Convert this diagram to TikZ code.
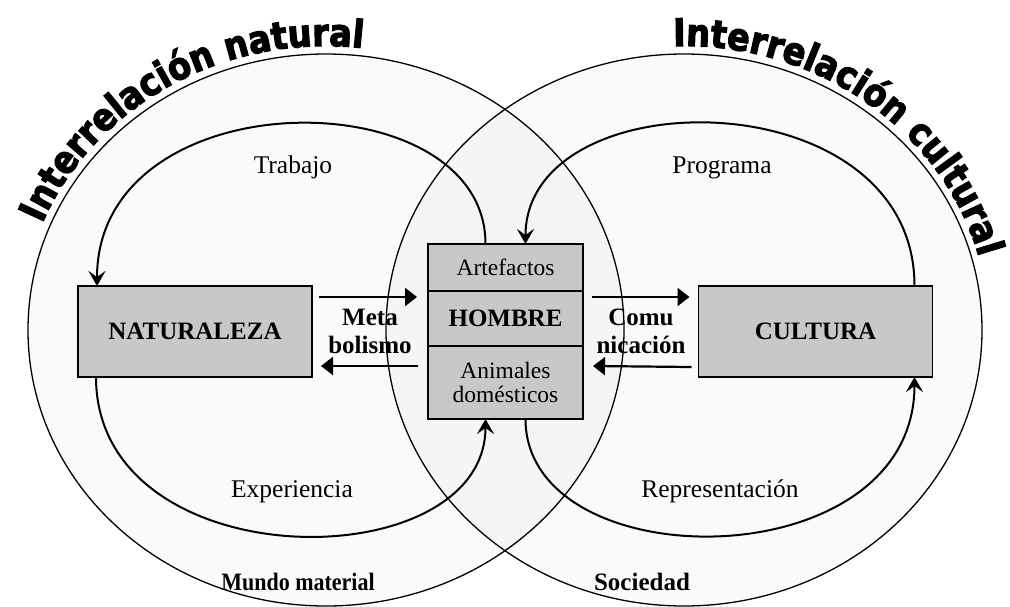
\documentclass[tikz,border=0pt]{standalone}
\usepackage{fontspec}
\setmainfont{Liberation Serif}
\newfontfamily\titlefont[FakeBold=3,FakeStretch=0.88]{DejaVu Sans Bold}
\usetikzlibrary{arrows.meta,positioning,decorations.text}
\definecolor{boxgray}{HTML}{C8C8C8}

\tikzset{
  world/.style={draw, line width=1.3pt, fill=black, fill opacity=0.02},
  box/.style={draw, rectangle, line width=1.4pt, fill=boxgray, outer sep=0pt, inner sep=2pt},
  cycle/.style={line width=2pt, -{Stealth[length=15pt,width=17pt,inset=6pt]}},
  flow/.style={line width=2.2pt, -{Triangle[length=12pt,width=18pt]}},
  lab/.style={font=\fontsize{23.5}{24}\selectfont, align=center},
  clab/.style={font=\fontsize{25.5}{26}\selectfont},
  blab/.style={font=\fontsize{25}{28}\selectfont\bfseries, align=center},
  arctext/.style={decorate, decoration={text along path, text align=left,
      text={|\titlefont\fontsize{38}{38}\selectfont|#1}}}
}

\begin{document}
\begin{tikzpicture}[x=1pt,y=-1pt]
\useasboundingbox (0,0) rectangle (1010,606);
% the two worlds
\path[world] (326,330) ellipse [x radius=298pt, y radius=276pt];
\path[world] (684,330) ellipse [x radius=298pt, y radius=276pt];
\path[arctext={Interrelación natural}] (326,330) ++(158:306pt and 284pt)
    arc[start angle=158, end angle=50, x radius=306pt, y radius=284pt];
\path[arctext={Interrelación cultural}] (684,330) ++(92:305pt and 284pt)
    arc[start angle=92, end angle=-30, x radius=305pt, y radius=284pt];

% boxes
\node[box, blab, minimum width=234pt, minimum height=91pt] (nat) at (195,331.5) {NATURALEZA};
\node[box, blab, minimum width=234pt, minimum height=91pt] (cul) at (815.5,331.5) {CULTURA};
\node[box, lab, minimum width=155pt, minimum height=47pt] (art) at (505.5,267.5) {Artefactos};
\node[box, blab, minimum width=155pt, minimum height=55pt, below=0pt of art] (hom) {HOMBRE};
\node[box, lab, minimum width=155pt, minimum height=73pt, below=0pt of hom] (ani) {Animales\\domésticos};

% exchanges
\draw[flow] ([shift={(7,11)}]nat.north east) -- ([shift={(-11,6)}]hom.north west);
\draw[flow] ([shift={(-10,20)}]hom.south west) -- ([shift={(9,-11)}]nat.south east);
\draw[flow] ([shift={(9,6)}]hom.north east) -- ([shift={(-9,11)}]cul.north west);
\draw[flow] ([shift={(-7,-10)}]cul.south west) -- ([shift={(10,20)}]hom.south east);
\node[blab] (meta) at (370,331.5) {Meta\\bolismo};
\node[blab] (comu) at (641,331.5) {Comu\\nicación};

% cycles
\draw[cycle] ([xshift=-20pt]art.north) .. controls +(0,-167) and +(0,-209) .. ([xshift=19pt]nat.north west);
\draw[cycle] ([xshift=-18pt]cul.north east) .. controls +(0,-209) and +(0,-167) .. ([xshift=20pt]art.north);
\draw[cycle] ([xshift=18pt]nat.south west) .. controls +(0,204) and +(0,162) .. ([xshift=-20pt]ani.south);
\draw[cycle] ([xshift=20pt]ani.south) .. controls +(0,162) and +(0,204) .. ([xshift=-18pt]cul.south east);

\node[clab, anchor=base] (trab) at (293,173) {Trabajo};
\node[clab, anchor=base] (prog) at (722,173) {Programa};
\node[clab, anchor=base] (expe) at (292,497) {Experiencia};
\node[clab, anchor=base] (repr) at (720,497) {Representación};
\node[blab, anchor=base] (mund) at (298,590) {\scalebox{0.88}[1]{Mundo material}};
\node[blab, anchor=base] (soci) at (642,590) {Sociedad};
\end{tikzpicture}
\end{document}
